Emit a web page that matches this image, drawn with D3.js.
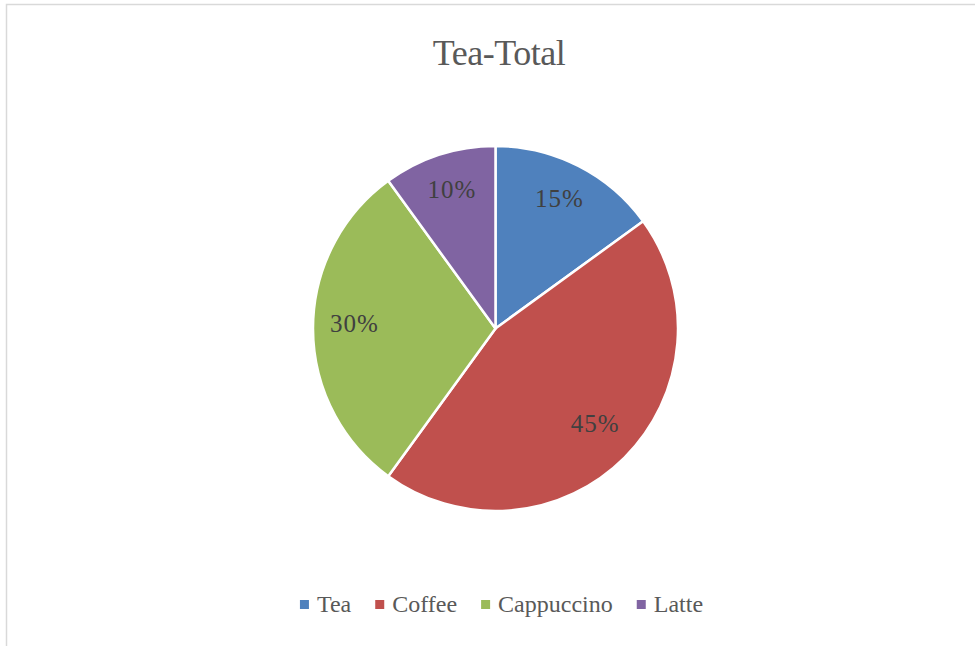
<!DOCTYPE html>
<html>
<head>
<meta charset="utf-8">
<script src="https://cdn.jsdelivr.net/npm/d3@7"></script>
<style>
  body { margin: 0; background: #fff; }
</style>
</head>
<body>
<div id="chart"></div>
<script>
// data
var categories = ["Tea", "Coffee", "Cappuccino", "Latte"];
var values = [15, 45, 30, 10];
var colors = ["#4f81bd", "#c0504d", "#9bbb59", "#8064a2"];

var width = 975, height = 646;
var serif = "'Liberation Serif', 'DejaVu Serif', serif";

var svg = d3.select("#chart").append("svg")
  .attr("width", width)
  .attr("height", height)
  .attr("font-family", serif);

// chart area border
svg.append("rect")
  .attr("x", 6.5)
  .attr("y", 4.5)
  .attr("width", width + 20)
  .attr("height", height + 20)
  .attr("fill", "#fff")
  .attr("stroke", "#d9d9d9")
  .attr("stroke-width", 1.5);

// title
svg.append("text")
  .attr("x", 499)
  .attr("y", 65)
  .attr("text-anchor", "middle")
  .attr("fill", "#595959")
  .attr("font-family", serif)
  .style("font-size", "36px")
  .style("letter-spacing", "-0.5px")
  .text("Tea-Total");

var cx = 495.5, cy = 328.5, radius = 182.5;

var color = d3.scaleOrdinal().domain(categories).range(colors);

var pie = d3.pie().sort(null).value(function(d) { return d.value; });
var data = categories.map(function(c, i) { return {name: c, value: values[i]}; });
var arcs = pie(data);

var arc = d3.arc().innerRadius(0).outerRadius(radius);
var labelArc = d3.arc().innerRadius(141).outerRadius(141);

var g = svg.append("g").attr("transform", "translate(" + cx + "," + cy + ")");

g.selectAll("path")
  .data(arcs)
  .enter()
  .append("path")
  .attr("d", arc)
  .attr("fill", function(d) { return color(d.data.name); })
  .attr("stroke", "#fff")
  .attr("stroke-width", 2.5)
  .attr("stroke-linejoin", "round");

var total = d3.sum(values);
g.selectAll("text.lbl")
  .data(arcs)
  .enter()
  .append("text")
  .attr("class", "lbl")
  .attr("transform", function(d) {
    var c = labelArc.centroid(d);
    return "translate(" + c[0] + "," + c[1] + ")";
  })
  .attr("text-anchor", "middle")
  .attr("dy", "0.15em")
  .attr("fill", "#404040")
  .attr("font-family", serif)
  .style("font-size", "25px")
  .style("letter-spacing", "1px")
  .text(function(d) { return Math.round(d.data.value / total * 100) + "%"; });

// legend
var legend = svg.append("g");
var x = 0;
categories.forEach(function(c, i) {
  var item = legend.append("g").attr("transform", "translate(" + x + ",0)");
  item.append("rect")
    .attr("x", 0)
    .attr("y", -12)
    .attr("width", 9)
    .attr("height", 9)
    .attr("fill", color(c));
  var t = item.append("text")
    .attr("x", 17)
    .attr("y", 0)
    .attr("fill", "#595959")
    .attr("font-family", serif)
    .style("font-size", "24px")
    .text(c);
  x += 17 + t.node().getComputedTextLength() + 24;
});
var legendWidth = x - 24;
legend.attr("transform", "translate(" + (501.5 - legendWidth / 2) + ",612)");
</script>
</body>
</html>
